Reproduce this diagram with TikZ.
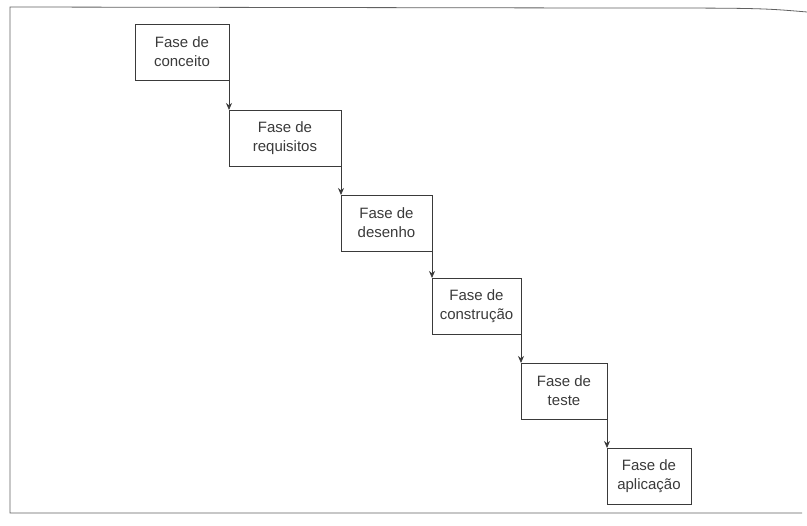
\documentclass[tikz,border=0pt]{standalone}
\usepackage{fontspec}
\setmainfont{Liberation Sans}
\usetikzlibrary{arrows.meta}
\definecolor{ink}{HTML}{3A3A3A}
\tikzset{
  phase/.style={draw=ink, line width=0.9pt, anchor=north west, minimum height=56pt,
    inner sep=0pt, outer sep=0pt, align=center, text=ink,
    font=\fontsize{15}{19}\selectfont},
  flow/.style={draw=ink, line width=0.8pt, -{Stealth[length=7pt,width=6pt]}},
  frame/.style={draw=ink!80, line width=0.8pt}
}
\begin{document}
\begin{tikzpicture}[x=1pt,y=-1pt]
\useasboundingbox (0,0) rectangle (807,526);
\draw[frame] (807,12) .. controls (760,8) .. (600,8) -- (10,7) -- (10,513) -- (802,513);
\node[phase, minimum width=94pt] (b1) at (135,24) {Fase de\\conceito};
\node[phase, minimum width=112pt] (b2) at (229,110) {Fase de\\requisitos};
\node[phase, minimum width=91pt] (b3) at (341,195) {Fase de\\desenho};
\node[phase, minimum width=89pt] (b4) at (432,278) {Fase de\\construção};
\node[phase, minimum width=86pt] (b5) at (521,363) {Fase de\\teste};
\node[phase, minimum width=84pt] (b6) at (607,448) {Fase de\\aplicação};
\draw[flow] (b1.south east) -- (b2.north west);
\draw[flow] (b2.south east) -- (b3.north west);
\draw[flow] (b3.south east) -- (b4.north west);
\draw[flow] (b4.south east) -- (b5.north west);
\draw[flow] (b5.south east) -- (b6.north west);
\end{tikzpicture}
\end{document}
